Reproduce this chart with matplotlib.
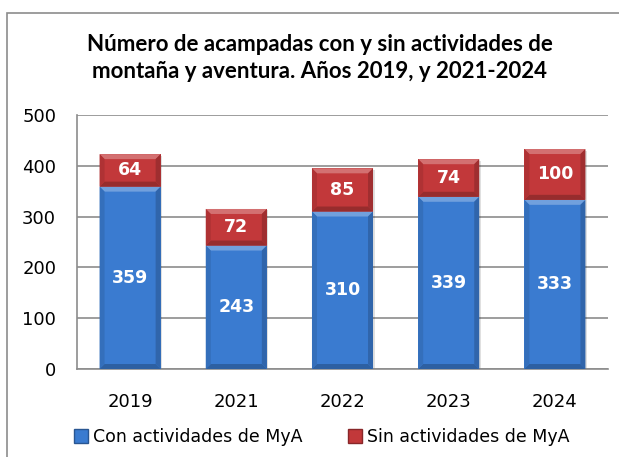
import matplotlib
matplotlib.use('Agg')
import matplotlib.pyplot as plt
from matplotlib.patches import Rectangle, Polygon, Patch
import numpy as np

plt.rcParams['font.family'] = ['DejaVu Sans']

years = ['2019', '2021', '2022', '2023', '2024']
con_mya = [359, 243, 310, 339, 333]
sin_mya = [64, 72, 85, 74, 100]

blue = '#3a7bd0'
red = '#c2383a'

W, H = 619, 457
fig = plt.figure(figsize=(W / 100, H / 100), dpi=100)

# outer chart border (runs off the right and bottom edge like the source)
fig.patches.append(Rectangle((7 / W, -0.05), 1.2, 1 - 13 / H + 0.05,
                             transform=fig.transFigure, fill=False,
                             edgecolor='#8c8c8c', linewidth=1.2))

ax = fig.add_axes([77 / W, 1 - 369 / H, (608 - 77) / W, (369 - 115) / H])
ax.set_ylim(0, 500)
ax.set_xlim(-0.5, len(years) - 0.5)

px_x = len(years) / (608 - 77)   # data units per pixel
px_y = 500 / (369 - 115)


def lighten(c, f):
    c = np.array(matplotlib.colors.to_rgb(c))
    return tuple(c + (1 - c) * f)


def darken(c, f):
    c = np.array(matplotlib.colors.to_rgb(c))
    return tuple(c * (1 - f))


def bevel_bar(x, bottom, height, color, width=0.575):
    x0, x1 = x - width / 2, x + width / 2
    y0, y1 = bottom, bottom + height
    bx, by = 5 * px_x, 5 * px_y
    # shadow
    ax.add_patch(Rectangle((x0 + 1.5 * px_x, y0 - 1.5 * px_y), width, height,
                           facecolor='#000000', alpha=0.12, linewidth=0, zorder=2))
    ax.add_patch(Rectangle((x0, y0), width, height, facecolor=color,
                           linewidth=0, zorder=3))
    # top light band
    ax.add_patch(Polygon([(x0, y1), (x1, y1), (x1 - bx, y1 - by), (x0 + bx, y1 - by)],
                         facecolor=lighten(color, 0.28), linewidth=0, zorder=4))
    # bottom dark band
    ax.add_patch(Polygon([(x0, y0), (x1, y0), (x1 - bx, y0 + by), (x0 + bx, y0 + by)],
                         facecolor=darken(color, 0.22), linewidth=0, zorder=4))
    # sides
    ax.add_patch(Polygon([(x0, y0), (x0 + bx, y0 + by), (x0 + bx, y1 - by), (x0, y1)],
                         facecolor=darken(color, 0.1), linewidth=0, zorder=4))
    ax.add_patch(Polygon([(x1, y0), (x1 - bx, y0 + by), (x1 - bx, y1 - by), (x1, y1)],
                         facecolor=darken(color, 0.18), linewidth=0, zorder=4))


xs = np.arange(len(years))
for i, x in enumerate(xs):
    bevel_bar(x, 0, con_mya[i], blue)
    bevel_bar(x, con_mya[i], sin_mya[i], red)
    ax.text(x, con_mya[i] / 2, str(con_mya[i]), ha='center', va='center',
            color='white', fontsize=12.5, fontweight='bold', zorder=6)
    ax.text(x, con_mya[i] + sin_mya[i] / 2, str(sin_mya[i]), ha='center', va='center',
            color='white', fontsize=12.5, fontweight='bold', zorder=6)

ax.set_yticks(range(0, 501, 100))
ax.yaxis.grid(True, color='#8c8c8c', linewidth=1.2)
ax.set_axisbelow(True)
ax.set_xticks(xs)
ax.set_xticklabels(years)
ax.tick_params(axis='both', labelsize=13, length=0, colors='#000000')
ax.tick_params(axis='y', pad=15)
ax.tick_params(axis='x', pad=17)
for s in ['top', 'right']:
    ax.spines[s].set_visible(False)
for s in ['left', 'bottom']:
    ax.spines[s].set_color('#8c8c8c')
    ax.spines[s].set_linewidth(1.2)

fig.text(320 / W, 1 - 58 / H,
         'Número de acampadas con y sin actividades de\nmontaña y aventura. Años 2019, y 2021-2024',
         ha='center', va='center', fontsize=16, fontweight='bold', linespacing=1.35,
         family=['Lato', 'DejaVu Sans'])

handles = [Patch(facecolor=blue, edgecolor=darken(blue, 0.3)),
           Patch(facecolor=red, edgecolor=darken(red, 0.3))]
fig.legend(handles, ['Con actividades de MyA', 'Sin actividades de MyA'],
           loc='center', bbox_to_anchor=(322 / W, 1 - 437 / H), ncol=2,
           frameon=False, fontsize=12.5, handlelength=0.8, handleheight=0.8,
           handletextpad=0.3, columnspacing=2.6)

fig.savefig('out.png', dpi=100)
